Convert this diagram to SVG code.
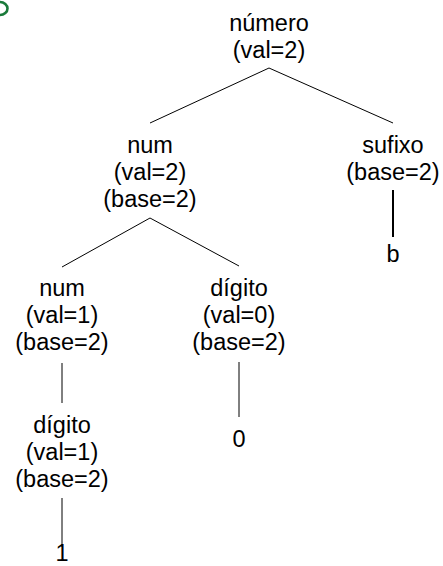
<svg xmlns="http://www.w3.org/2000/svg" width="443" height="566" viewBox="0 0 443 566">
  <style>
    text { font-family: "Liberation Sans", Arial, Helvetica, sans-serif; font-size: 23.5px; fill: #000; text-anchor: middle; }
    .edge { stroke: #000; stroke-width: 1; fill: none; }
    .edge-bold { stroke: #000; stroke-width: 2; fill: none; }
  </style>
  <rect width="443" height="566" fill="#fff"/>
  <!-- partial green mark in the corner -->
  <path d="M0,2 A7.5,6.5 0 0 1 0,15" fill="none" stroke="#1a7a3a" stroke-width="2.6"/>

  <g id="connectors">
    <line class="edge" x1="269" y1="68" x2="150" y2="123"/>
    <line class="edge" x1="269" y1="68" x2="393" y2="123"/>
    <line class="edge-bold" x1="393" y1="190" x2="393" y2="237"/>
    <line class="edge" x1="150" y1="218" x2="62" y2="267"/>
    <line class="edge" x1="150" y1="218" x2="239" y2="266"/>
    <line class="edge" x1="62" y1="363" x2="62" y2="403"/>
    <line class="edge" x1="239" y1="362" x2="239" y2="417"/>
    <line class="edge" x1="62" y1="498" x2="62" y2="547"/>
  </g>

  <g id="numero">
    <text x="269" y="31">número</text>
    <text x="269" y="58">(val=2)</text>
  </g>
  <g id="num-top">
    <text x="150" y="153">num</text>
    <text x="150" y="180">(val=2)</text>
    <text x="150" y="207">(base=2)</text>
  </g>
  <g id="sufixo">
    <text x="393" y="153">sufixo</text>
    <text x="393" y="180">(base=2)</text>
  </g>
  <g id="b">
    <text x="393" y="262">b</text>
  </g>
  <g id="num-inner">
    <text x="62" y="296">num</text>
    <text x="62" y="323">(val=1)</text>
    <text x="62" y="350">(base=2)</text>
  </g>
  <g id="digito-0">
    <text x="239" y="296">dígito</text>
    <text x="239" y="323">(val=0)</text>
    <text x="239" y="350">(base=2)</text>
  </g>
  <g id="zero">
    <text x="239" y="447">0</text>
  </g>
  <g id="digito-1">
    <text x="62" y="433">dígito</text>
    <text x="62" y="460">(val=1)</text>
    <text x="62" y="487">(base=2)</text>
  </g>
  <g id="one">
    <text x="62" y="561">1</text>
  </g>
</svg>
